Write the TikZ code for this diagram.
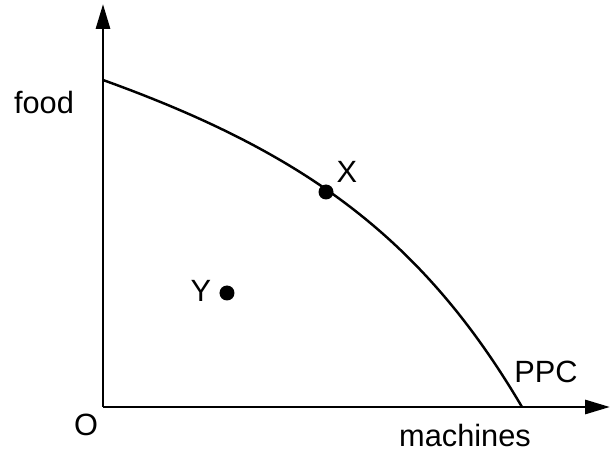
\documentclass[tikz,border=0pt]{standalone}
\usepackage{fontspec}
\setmainfont{Liberation Sans}
\usepackage{tikz}
\usetikzlibrary{arrows.meta}

\begin{document}
\begin{tikzpicture}[every node/.style={font=\fontsize{17.5}{20}\selectfont, inner sep=1pt},
axis/.style={line width=1.7pt, -{Triangle[length=0.5cm, width=0.28cm]}},
ppc/.style={line width=1.4pt},
dot/.style={circle, fill=black, inner sep=0pt, minimum size=0.3cm}]
\useasboundingbox (-2.06,-0.86) rectangle (10.14,8.14);
\coordinate (O) at (0,0);
\coordinate (ytop) at (0,8.06);
\coordinate (xend) at (10.14,0);
\coordinate (start) at (0,6.54);
\coordinate (stop) at (8.38,0);
\draw[axis] (O)--(ytop);
\draw[axis] (O)--(xend);
\draw[ppc] (start) .. controls (4.0,5.1) and (6.38,3.4) .. (stop);
\node[dot] (x) at (4.46,4.3) {};
\node[dot] (y) at (2.48,2.28) {};
\node (xl) at (4.88,4.7) {X};
\node (yl) at (1.96,2.32) {Y};
\node (food) at (-1.18,6.08) {food};
\node (orig) at (-0.34,-0.36) {O};
\node (mach) at (7.24,-0.58) {machines};
\node (ppcl) at (8.86,0.7) {PPC};
\end{tikzpicture}
\end{document}
